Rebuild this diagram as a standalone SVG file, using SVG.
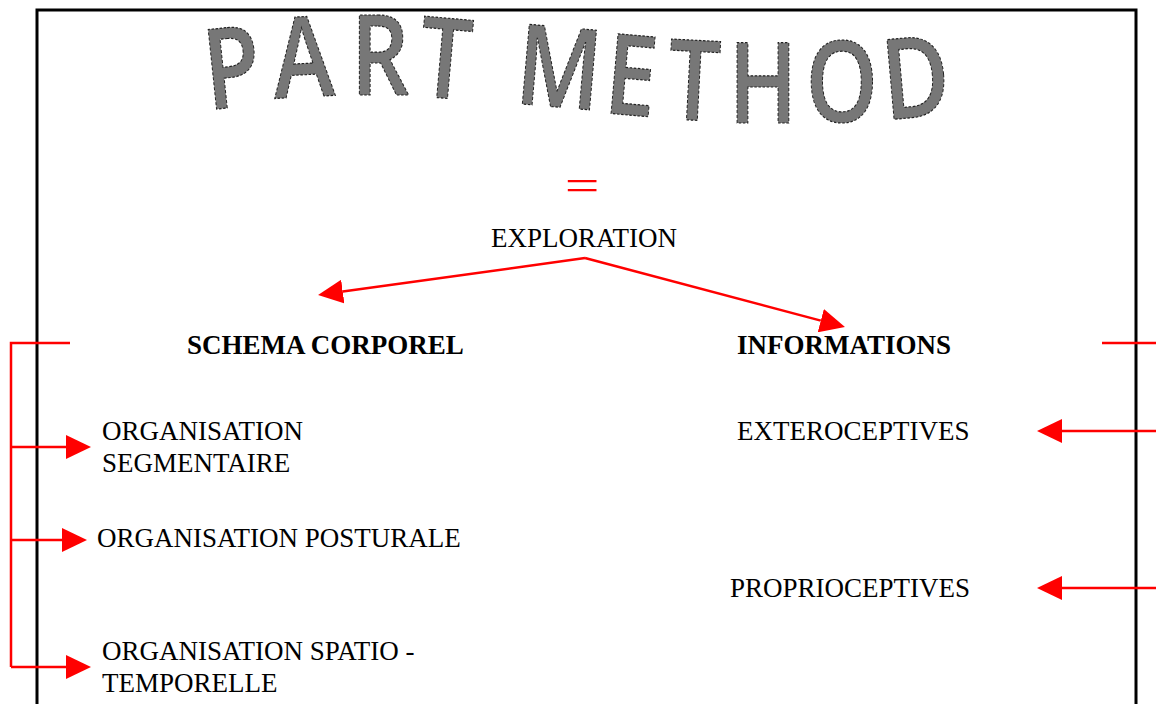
<svg xmlns="http://www.w3.org/2000/svg" width="1156" height="704" viewBox="0 0 1156 704">
<defs>
<style>
.t{font-family:"Liberation Serif","Times New Roman",serif;font-size:27px;fill:#000}
.b{font-weight:bold}
.w{font-family:"Open Sans","Noto Sans",sans-serif;font-size:112px;font-weight:600;fill:#777;stroke:#222;stroke-width:1.2;stroke-dasharray:3 2;text-anchor:middle}
.c{fill:none;stroke:#ff0000;stroke-width:2.5}
</style>
<marker id="ah" markerUnits="userSpaceOnUse" markerWidth="26" markerHeight="24" refX="0" refY="12" orient="auto" viewBox="0 0 26 24">
<path d="M0,0 L25,12 L0,24 z" fill="#ff0000"/>
</marker>
</defs>
<rect width="1156" height="704" fill="#fff"/>
<rect x="37" y="10" width="1099" height="720" fill="none" stroke="#000" stroke-width="3"/>

<g id="title">
<text class="w" transform="translate(236,107) rotate(-6) scale(0.82,1)">P</text>
<text class="w" transform="translate(305,97) rotate(-3) scale(0.82,1)">A</text>
<text class="w" transform="translate(380,95) scale(0.82,1)">R</text>
<text class="w" transform="translate(442,98) rotate(5) scale(0.82,1)">T</text>
<text class="w" transform="translate(556,107) rotate(5) scale(0.82,1)">M</text>
<text class="w" transform="translate(628,115) rotate(5) scale(0.82,1)">E</text>
<text class="w" transform="translate(692,120) rotate(3) scale(0.82,1)">T</text>
<text class="w" transform="translate(763,123) scale(0.82,1)">H</text>
<text class="w" transform="translate(842,122) scale(0.82,1)">O</text>
<text class="w" transform="translate(919,117) rotate(-5) scale(0.82,1)">D</text>
</g>

<g id="equals"><text transform="translate(582,200) scale(1.4,1)" text-anchor="middle" style="font-family:'Liberation Serif',serif;font-size:44px;fill:#ff0000">=</text></g>
<g id="exploration"><text class="t" x="491" y="247">EXPLORATION</text></g>
<g id="schema"><text class="t b" x="187" y="354">SCHEMA CORPOREL</text></g>
<g id="informations"><text class="t b" x="737" y="354">INFORMATIONS</text></g>
<g id="segmentaire"><text class="t" x="102" y="440">ORGANISATION</text><text class="t" x="102" y="472">SEGMENTAIRE</text></g>
<g id="posturale"><text class="t" x="97" y="547">ORGANISATION POSTURALE</text></g>
<g id="spatio"><text class="t" x="102" y="660">ORGANISATION SPATIO -</text><text class="t" x="102" y="692">TEMPORELLE</text></g>
<g id="extero"><text class="t" x="737" y="440">EXTEROCEPTIVES</text></g>
<g id="proprio"><text class="t" x="730" y="597">PROPRIOCEPTIVES</text></g>

<g id="connectors">
<path class="c" d="M585,258 L342.8,291.6" marker-end="url(#ah)"/>
<path class="c" d="M585,258 L820.8,320.6" marker-end="url(#ah)"/>
<path class="c" d="M70,343 H11 V667"/>
<path class="c" d="M11,447 H66" marker-end="url(#ah)"/>
<path class="c" d="M11,540 H62" marker-end="url(#ah)"/>
<path class="c" d="M11,667 H66" marker-end="url(#ah)"/>
<path class="c" d="M1102,343 H1158"/>
<path class="c" d="M1158,431 H1062" marker-end="url(#ah)"/>
<path class="c" d="M1158,588 H1062" marker-end="url(#ah)"/>
</g>
</svg>
